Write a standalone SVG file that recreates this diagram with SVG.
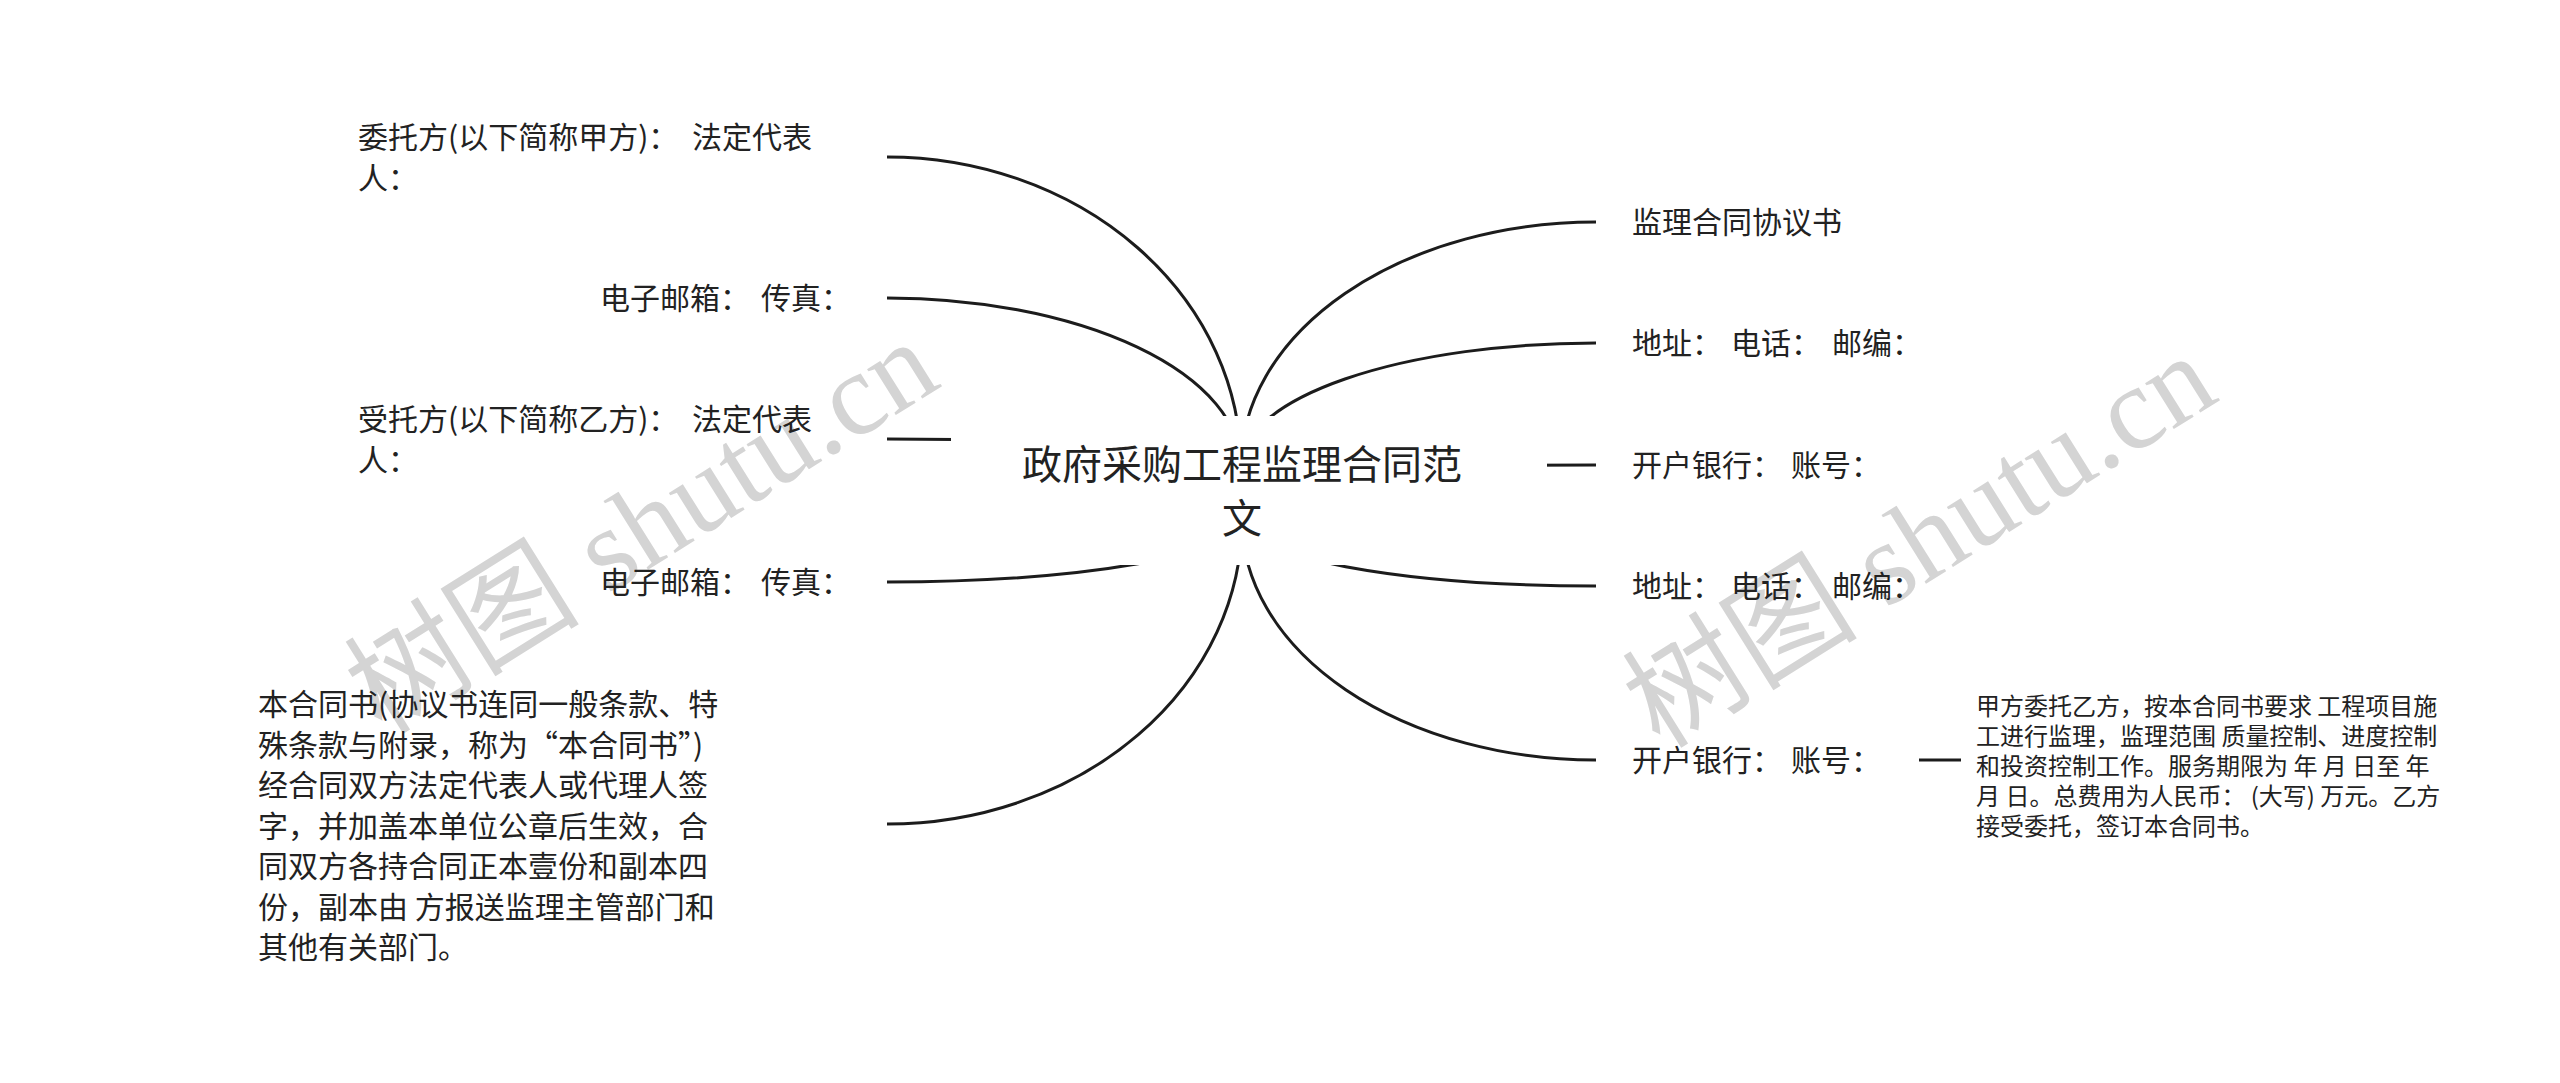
<svg xmlns="http://www.w3.org/2000/svg" width="2560" height="1083" viewBox="0 0 2560 1083">
<style>
.bg{fill:#ffffff}
.t{font-family:"Noto Sans CJK SC","Noto Sans",sans-serif;fill:#222222}
.n{font-size:30px}
.s{font-size:24px}
.title{font-size:40px}
.wm{font-family:"Liberation Serif","Noto Sans CJK SC",serif;font-size:118px;fill:#d4d4d4}
.c{fill:none;stroke:#1c1c1c;stroke-width:3;stroke-linecap:butt}
</style>
<rect class="bg" x="0" y="0" width="2560" height="1083"/>
<g id="watermarks">
<text class="wm" transform="translate(382 736) rotate(-32)">树图 shutu.cn</text>
<text class="wm" transform="translate(1660 750) rotate(-32)">树图 shutu.cn</text>
</g>
<g id="connectors">
<path class="c" d="M1241 466 A354 309 0 0 0 887 157"/>
<path class="c" d="M1241 466 A354 168 0 0 0 887 298"/>
<path class="c" d="M1241 466 A354 27 0 0 0 887 439"/>
<path class="c" d="M1242 520 A355 62 0 0 1 887 582"/>
<path class="c" d="M1242 520 A355 304 0 0 1 887 824"/>
<path class="c" d="M1241 466 A355 244 0 0 1 1596 222"/>
<path class="c" d="M1241 466 A355 123 0 0 1 1596 343"/>
<path class="c" d="M1241 466 L1596 465"/>
<path class="c" d="M1242 520 A354 66 0 0 0 1596 586"/>
<path class="c" d="M1242 520 A354 240 0 0 0 1596 760"/>
<path class="c" d="M1919 760 L1961 760"/>
</g>
<g id="root">
<rect class="bg" x="951" y="416" width="596" height="149"/>
<text class="t title" text-anchor="middle"><tspan x="1242" y="479">政府采购工程监理合同范</tspan><tspan x="1242" y="533">文</tspan></text>
</g>
<g id="node-weituofang">
<text class="t n"><tspan x="358" y="148">委托方(以下简称甲方)：</tspan><tspan x="692" y="148">法定代表</tspan><tspan x="358" y="189">人：</tspan></text>
</g>
<g id="node-email-1">
<text class="t n"><tspan x="600" y="309">电子邮箱：</tspan><tspan x="761" y="309">传真：</tspan></text>
</g>
<g id="node-shoutuofang">
<text class="t n"><tspan x="358" y="430">受托方(以下简称乙方)：</tspan><tspan x="692" y="430">法定代表</tspan><tspan x="358" y="471">人：</tspan></text>
</g>
<g id="node-email-2">
<text class="t n"><tspan x="600" y="593">电子邮箱：</tspan><tspan x="761" y="593">传真：</tspan></text>
</g>
<g id="node-hetongshu">
<text class="t n">
<tspan x="258" y="715">本合同书(协议书连同一般条款、特</tspan>
<tspan x="258" y="755.5">殊条款与附录，称为“本合同书”)</tspan>
<tspan x="258" y="796">经合同双方法定代表人或代理人签</tspan>
<tspan x="258" y="836.5">字，并加盖本单位公章后生效，合</tspan>
<tspan x="258" y="877">同双方各持合同正本壹份和副本四</tspan>
<tspan x="258" y="917.5">份，副本由 方报送监理主管部门和</tspan>
<tspan x="258" y="958">其他有关部门。</tspan>
</text>
</g>
<g id="node-xieyishu">
<text class="t n" x="1632" y="233">监理合同协议书</text>
</g>
<g id="node-address-1">
<text class="t n"><tspan x="1632" y="354">地址：</tspan><tspan x="1731" y="354">电话：</tspan><tspan x="1832" y="354">邮编：</tspan></text>
</g>
<g id="node-bank-1">
<text class="t n"><tspan x="1632" y="476">开户银行：</tspan><tspan x="1791" y="476">账号：</tspan></text>
</g>
<g id="node-address-2">
<text class="t n"><tspan x="1632" y="597">地址：</tspan><tspan x="1731" y="597">电话：</tspan><tspan x="1832" y="597">邮编：</tspan></text>
</g>
<g id="node-bank-2">
<text class="t n"><tspan x="1632" y="771">开户银行：</tspan><tspan x="1791" y="771">账号：</tspan></text>
</g>
<g id="node-weituo-detail">
<text class="t s">
<tspan x="1976" y="715">甲方委托乙方，按本合同书要求 工程项目施</tspan>
<tspan x="1976" y="745">工进行监理，监理范围 质量控制、进度控制</tspan>
<tspan x="1976" y="775">和投资控制工作。服务期限为 年 月 日至 年</tspan>
<tspan x="1976" y="805">月 日。总费用为人民币： (大写) 万元。乙方</tspan>
<tspan x="1976" y="835">接受委托，签订本合同书。</tspan>
</text>
</g>
</svg>
